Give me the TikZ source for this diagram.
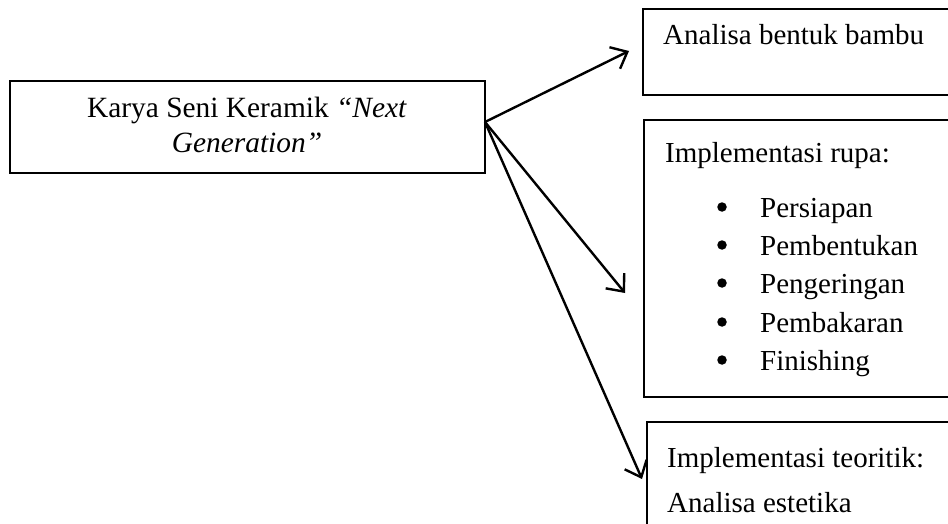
\documentclass[tikz,border=0pt]{standalone}
\usepackage{fontspec}
\setmainfont{Liberation Serif}
\usetikzlibrary{arrows.meta}
\begin{document}
\begin{tikzpicture}[x=1pt,y=-1pt,
  box/.style={draw=black,line width=1.7pt,rectangle,inner sep=0pt},
  txt/.style={anchor=base west,inner sep=0pt,font=\fontsize{29}{33}\selectfont},
  conn/.style={line width=2.4pt,-{Straight Barb[length=14pt,width=24pt,line width=2.4pt]}},
  dot/.style={circle,fill=black,inner sep=0pt,minimum size=9.5pt}]
\clip (0,0) rectangle (948,524);
\fill[white] (0,0) rectangle (948,524);
% boxes
\node[box,minimum width=475pt,minimum height=92pt] (main) at (247.5,127) {};
\node[box,minimum width=330pt,minimum height=86pt,anchor=north west] (b1) at (642,8) {};
\node[box,minimum width=330pt,minimum height=277pt,anchor=north west] (b2) at (643,119) {};
\node[box,minimum width=330pt,minimum height=140pt,anchor=north west] (b3) at (646,421) {};
% main text
\node[anchor=base,inner sep=0pt,font=\fontsize{29.4}{33}\selectfont] (m1) at (247,118) {Karya Seni Keramik \textit{“Next}};
\node[anchor=base,inner sep=0pt,font=\fontsize{29.4}{33}\selectfont] (m2) at (247,153) {\textit{Generation”}};
% box texts
\node[txt] (t1) at (663,45) {Analisa bentuk bambu};
\node[txt] (t2) at (665,163) {Implementasi rupa:};
\node[dot] (d1) at (722,207) {};
\node[dot] (d2) at (722,245) {};
\node[dot] (d3) at (722,283) {};
\node[dot] (d4) at (722,322) {};
\node[dot] (d5) at (722,360) {};
\node[txt] (l1) at (760,217) {Persiapan};
\node[txt] (l2) at (760,255) {Pembentukan};
\node[txt] (l3) at (760,293) {Pengeringan};
\node[txt] (l4) at (760,332) {Pembakaran};
\node[txt] (l5) at (760,370) {Finishing};
\node[txt] (t3) at (667,467) {Implementasi teoritik:};
\node[txt] (t4) at (667,512) {Analisa estetika};
% connectors
\coordinate (src) at (485,122);
\coordinate (e1) at (629,51);
\coordinate (e2) at (625,293);
\coordinate (e3) at (642,479);
\draw[conn] (src) -- (e1);
\draw[conn] (src) -- (e2);
\draw[conn] (src) -- (e3);
\end{tikzpicture}
\end{document}
